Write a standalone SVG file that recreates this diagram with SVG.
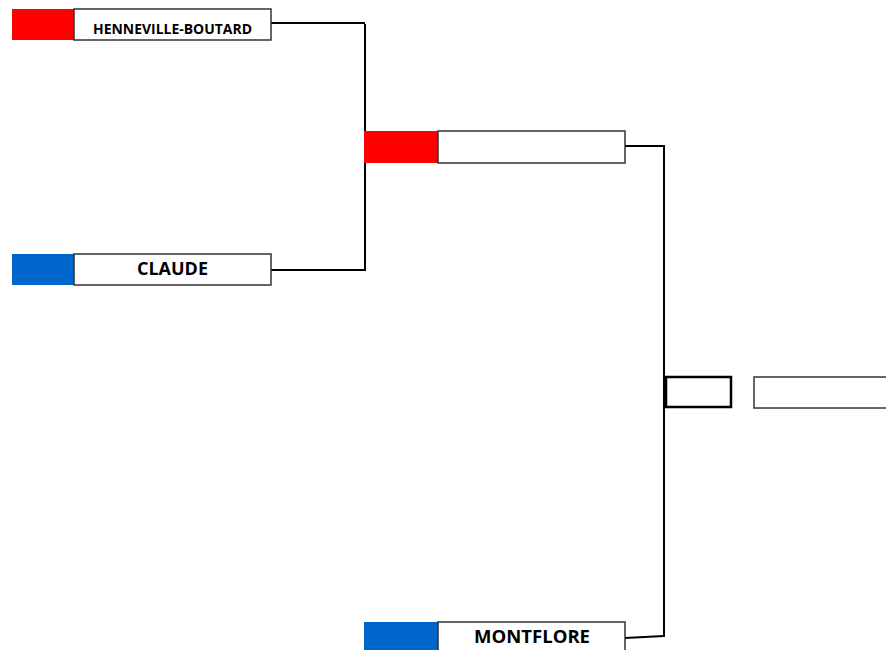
<svg xmlns="http://www.w3.org/2000/svg" width="886" height="650" viewBox="0 0 886 650">
<style>
.box{fill:#fff;stroke:#333;stroke-width:1.5}
.red{fill:#ff0000}
.blue{fill:#0066cc}
.lbl{font-family:"Open Sans","Liberation Sans",sans-serif;font-weight:bold;fill:#000;text-anchor:middle}
.con{fill:none;stroke:#000;stroke-width:2}
</style>
<rect width="886" height="650" fill="#fff"/>
<g id="connectors">
<polyline class="con" points="271,23 365,23"/>
<line class="con" x1="365" y1="24" x2="365" y2="271"/>
<polyline class="con" points="271,270 366,270"/>
<polyline class="con" points="625,146 664,146 664,637"/>
<polyline class="con" points="625,638 664,636"/>
</g>
<g id="henneville">
<rect class="red" x="12" y="9" width="62" height="31"/>
<rect class="box" x="74" y="9" width="197" height="31"/>
<text class="lbl" x="172.5" y="34" font-size="14" textLength="159" lengthAdjust="spacingAndGlyphs">HENNEVILLE-BOUTARD</text>
</g>
<g id="claude">
<rect class="blue" x="12" y="254" width="62" height="31"/>
<rect class="box" x="74" y="254" width="197" height="31"/>
<text class="lbl" x="172.5" y="275" font-size="18.5" textLength="71" lengthAdjust="spacingAndGlyphs">CLAUDE</text>
</g>
<g id="semi">
<rect class="red" x="364" y="131" width="74" height="32"/>
<rect class="box" x="438" y="131" width="187" height="32"/>
</g>
<g id="montflore">
<rect class="blue" x="364" y="622" width="74" height="30"/>
<rect class="box" x="438" y="622" width="187" height="32"/>
<text class="lbl" x="532" y="643" font-size="18.5" textLength="116" lengthAdjust="spacingAndGlyphs">MONTFLORE</text>
</g>
<g id="final-score">
<rect x="666" y="377" width="65" height="30" fill="#fff" stroke="#000" stroke-width="2.5"/>
</g>
<g id="final">
<rect class="box" x="754" y="377" width="134" height="31"/>
</g>
</svg>
